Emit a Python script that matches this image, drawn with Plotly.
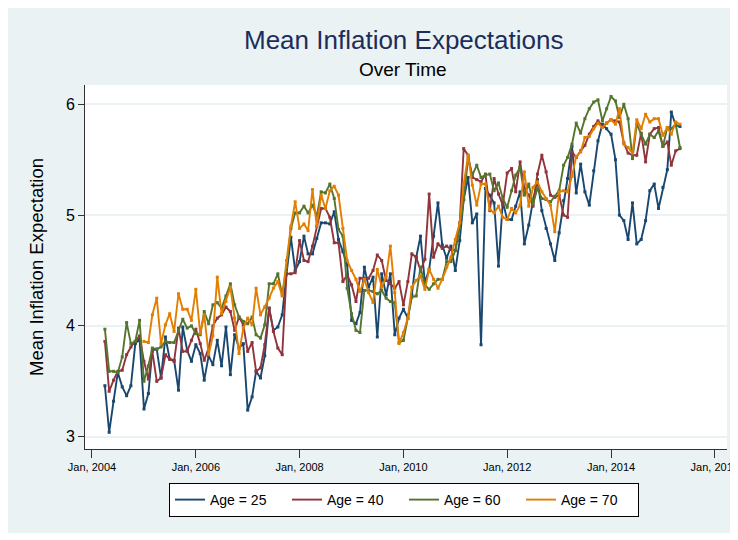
import pandas as pd
import plotly.graph_objects as go

# Monthly survey means, Apr 2004 - May 2015
months = pd.date_range("2004-04-01", periods=134, freq="MS")

age25 = [
    3.46, 3.04, 3.32, 3.58, 3.45, 3.37, 3.46, 3.84, 3.88, 3.25,
    3.39, 3.78, 3.79, 3.53, 3.90, 3.70, 3.69, 3.42, 3.99, 3.78,
    3.68, 3.83, 3.75, 3.51, 3.73, 3.65, 3.87, 3.64, 3.99, 3.56,
    3.92, 3.80, 3.84, 3.24, 3.36, 3.59, 3.53, 3.73, 4.16, 3.96,
    3.99, 4.10, 4.47, 4.80, 4.50, 4.58, 4.81, 4.65, 4.65, 4.79,
    4.93, 4.93, 4.92, 5.03, 4.78, 4.67, 4.55, 4.05, 4.02, 4.12,
    4.53, 4.35, 4.44, 3.90, 4.47, 4.28, 4.47, 3.92, 4.07, 4.15,
    4.07, 4.28, 4.62, 4.81, 4.39, 4.51, 4.81, 5.11, 4.73, 4.61,
    4.72, 4.50, 4.77, 5.14, 5.34, 4.93, 5.01, 3.83, 5.24, 5.18,
    5.11, 4.54, 5.12, 4.96, 4.96, 5.08, 5.21, 4.74, 4.91, 5.13,
    5.32, 5.04, 4.88, 4.74, 4.59, 4.84, 5.13, 5.33, 5.62, 5.20,
    5.46, 5.21, 5.09, 5.40, 5.67, 5.82, 5.78, 5.73, 5.50, 5.00,
    4.95, 4.78, 5.11, 4.74, 4.78, 4.95, 5.22, 5.28, 5.06, 5.25,
    5.41, 5.93, 5.81, 5.80,
]
age40 = [
    3.86, 3.41, 3.51, 3.59, 3.60, 3.74, 3.81, 3.86, 3.91, 3.68,
    3.52, 3.77, 3.50, 3.53, 3.74, 3.70, 3.68, 3.98, 3.77, 3.77,
    3.87, 3.97, 3.84, 3.69, 3.80, 4.00, 4.07, 4.10, 4.17, 4.13,
    3.96, 4.08, 4.01, 3.77, 3.85, 3.59, 3.62, 3.83, 4.16, 3.95,
    3.80, 3.74, 4.47, 4.47, 4.48, 4.77, 4.59, 4.58, 4.72, 4.90,
    5.06, 5.06, 4.98, 4.75, 4.75, 4.40, 4.46, 4.37, 4.22, 4.43,
    4.43, 4.43, 4.50, 4.64, 4.59, 4.41, 4.38, 4.34, 4.40, 4.19,
    4.40, 4.65, 4.62, 4.50, 4.60, 5.19, 4.62, 4.74, 4.70, 4.72,
    4.69, 4.68, 4.93, 5.60, 5.54, 5.34, 5.32, 5.30, 5.37, 5.04,
    5.33, 5.19, 5.09, 5.38, 5.42, 5.21, 5.48, 5.24, 5.18, 5.08,
    5.37, 5.54, 5.39, 5.18, 5.16, 5.18, 5.00, 4.98, 5.57, 5.52,
    5.58, 5.63, 5.73, 5.80, 5.85, 5.80, 5.83, 5.86, 5.85, 5.84,
    5.65, 5.56, 5.54, 5.54, 5.74, 5.48, 5.73, 5.78, 5.79, 5.62,
    5.66, 5.45, 5.58, 5.60,
]
age60 = [
    3.97, 3.59, 3.59, 3.58, 3.72, 4.03, 3.84, 3.86, 4.05, 3.50,
    3.64, 3.80, 3.79, 3.81, 3.86, 3.85, 3.85, 3.96, 4.06, 3.98,
    4.00, 3.93, 3.92, 4.13, 4.02, 4.19, 4.21, 4.16, 4.27, 4.38,
    4.19, 4.08, 4.04, 4.02, 4.08, 3.92, 3.89, 4.01, 4.38, 4.38,
    4.47, 4.28, 4.53, 4.88, 5.02, 5.02, 5.08, 5.02, 5.09, 4.99,
    5.21, 5.20, 5.28, 5.15, 4.87, 4.81, 4.34, 4.11, 3.96, 3.94,
    4.32, 4.32, 4.31, 4.29, 4.32, 4.25, 4.22, 4.21, 3.85, 3.87,
    4.07, 4.26, 4.27, 4.53, 4.37, 4.33, 4.38, 4.42, 4.42, 4.58,
    4.58, 4.68, 4.88, 5.14, 5.51, 5.36, 5.45, 5.34, 5.36, 5.37,
    5.22, 5.29, 5.15, 5.07, 5.22, 5.36, 5.43, 5.18, 5.28, 5.10,
    5.24, 5.15, 5.14, 5.12, 5.17, 5.22, 5.45, 5.52, 5.64, 5.83,
    5.74, 5.87, 5.96, 6.02, 6.04, 5.85, 5.96, 6.07, 6.03, 5.88,
    6.00, 5.87, 5.51, 5.82, 5.73, 5.64, 5.73, 5.70, 5.76, 5.62,
    5.79, 5.78, 5.82, 5.61,
]
age70 = [None] * 9 + [
    3.86, 3.85, 4.10, 4.25, 3.84, 4.01, 4.11, 3.95, 4.29, 4.15, 4.15,
    4.05, 4.33, 3.93, 4.10, 3.74, 3.91, 4.44, 4.11, 4.22, 4.35,
    4.07, 3.75, 3.98, 4.07, 4.01, 4.34, 4.10, 4.17, 4.25, 4.34,
    4.40, 4.27, 4.59, 4.90, 5.12, 4.88, 4.92, 4.86, 5.23, 4.90,
    5.18, 5.06, 5.22, 5.26, 5.18, 4.88, 4.59, 4.50, 4.42, 4.31,
    4.42, 4.30, 4.21, 4.51, 4.35, 4.44, 4.72, 4.30, 3.84, 3.94,
    4.07, 4.35, 4.41, 4.45, 4.33, 4.51, 4.42, 4.34, 4.42, 4.53,
    4.62, 4.78, 4.93, 5.28, 5.54, 5.27, 5.09, 5.28, 5.28, 5.05,
    5.02, 5.08, 4.98, 4.96, 5.06, 5.02, 5.09, 5.39, 5.08, 5.25,
    5.30, 5.21, 5.15, 5.09, 4.85, 5.21, 5.22, 5.21, 5.35, 5.53,
    5.57, 5.70, 5.71, 5.78, 5.83, 5.79, 5.83, 5.86, 5.82, 5.96,
    5.64, 5.61, 5.56, 5.86, 5.78, 5.91, 5.84, 5.87, 5.87, 5.72,
    5.79, 5.73, 5.84, 5.82,
]

series_names = ["Age = 25", "Age = 40", "Age = 60", "Age = 70"]
tick_dates = ["2004-01-01", "2006-01-01", "2008-01-01", "2010-01-01",
              "2012-01-01", "2014-01-01", "2016-01-01"]
tick_labels = ["Jan, 2004", "Jan, 2006", "Jan, 2008", "Jan, 2010",
               "Jan, 2012", "Jan, 2014", "Jan, 2016"]

# Stata s2color palette
colors = ["#1a476f", "#90353b", "#55752f", "#e37e00"]
FONT = "Liberation Sans, Arial, sans-serif"

fig = go.Figure()

for name, vals, col in zip(series_names, [age25, age40, age60, age70], colors):
    fig.add_trace(
        go.Scatter(
            x=months,
            y=vals,
            mode="lines+markers",
            name=name,
            line=dict(color=col, width=1.9),
            marker=dict(color=col, size=3, symbol="square"),
            showlegend=False,
        )
    )
    # legend entry: line only
    fig.add_trace(
        go.Scatter(
            x=[None], y=[None], mode="lines", name=name,
            line=dict(color=col, width=1.9),
        )
    )

# page sits 8px in from the window edge (body margin)
OFF = 8
FIG_W, FIG_H = 738 - OFF, 540 - OFF
# plot area in window pixels
L, R, T, B = 85, 727, 85, 449
W, H = R - L, B - T


def px(x):
    return (x - L) / W


def py(y):
    return (B - y) / H


fig.update_layout(
    width=FIG_W,
    height=FIG_H,
    margin=dict(l=L - OFF, r=FIG_W - (R - OFF), t=T - OFF, b=FIG_H - (B - OFF),
                autoexpand=False),
    paper_bgcolor="#eaf2f3",
    plot_bgcolor="white",
    font=dict(family=FONT, color="black"),
    showlegend=True,
    legend=dict(
        orientation="h",
        x=px(404), xanchor="center",
        y=py(483), yanchor="top",
        bordercolor="black", borderwidth=1,
        bgcolor="white",
        font=dict(size=14, family=FONT),
        entrywidth=72,
        itemwidth=30,
    ),
    shapes=[
        # white strip right of / below the graph region
        dict(type="rect", xref="paper", yref="paper",
             x0=px(733), x1=px(760), y0=py(560), y1=py(0),
             fillcolor="white", line=dict(width=0), layer="below"),
        dict(type="rect", xref="paper", yref="paper",
             x0=px(0), x1=px(760), y0=py(560), y1=py(533),
             fillcolor="white", line=dict(width=0), layer="below"),
    ],
    annotations=[
        dict(text="Mean Inflation Expectations", xref="paper", yref="paper",
             x=px(403), y=py(40), xanchor="center", yanchor="middle",
             showarrow=False, font=dict(size=26, color="#1c2d5c", family=FONT)),
        dict(text="Over Time", xref="paper", yref="paper",
             x=px(403), y=py(70), xanchor="center", yanchor="middle",
             showarrow=False, font=dict(size=19, color="black", family=FONT)),
    ],
)

fig.update_xaxes(
    range=["2003-11-13", "2016-03-27"],
    tickvals=tick_dates,
    ticktext=tick_labels,
    ticks="outside", ticklen=8, tickcolor="#333",
    tickfont=dict(size=11),
    ticklabeloverflow="allow",
    showgrid=False, zeroline=False, automargin=False,
    showline=True, linecolor="#333", linewidth=1,
)
fig.update_yaxes(
    range=[2.889, 6.174],
    tickvals=[3, 4, 5, 6],
    ticks="outside", ticklen=6, tickcolor="#333",
    tickfont=dict(size=16),
    showgrid=True, gridcolor="#eaf2f3", gridwidth=1.5,
    zeroline=False, automargin=False,
    showline=True, linecolor="#333", linewidth=1,
    title=dict(text="Mean Inflation Expectation", font=dict(size=18.5), standoff=17),
)

fig.write_html("out.html")
